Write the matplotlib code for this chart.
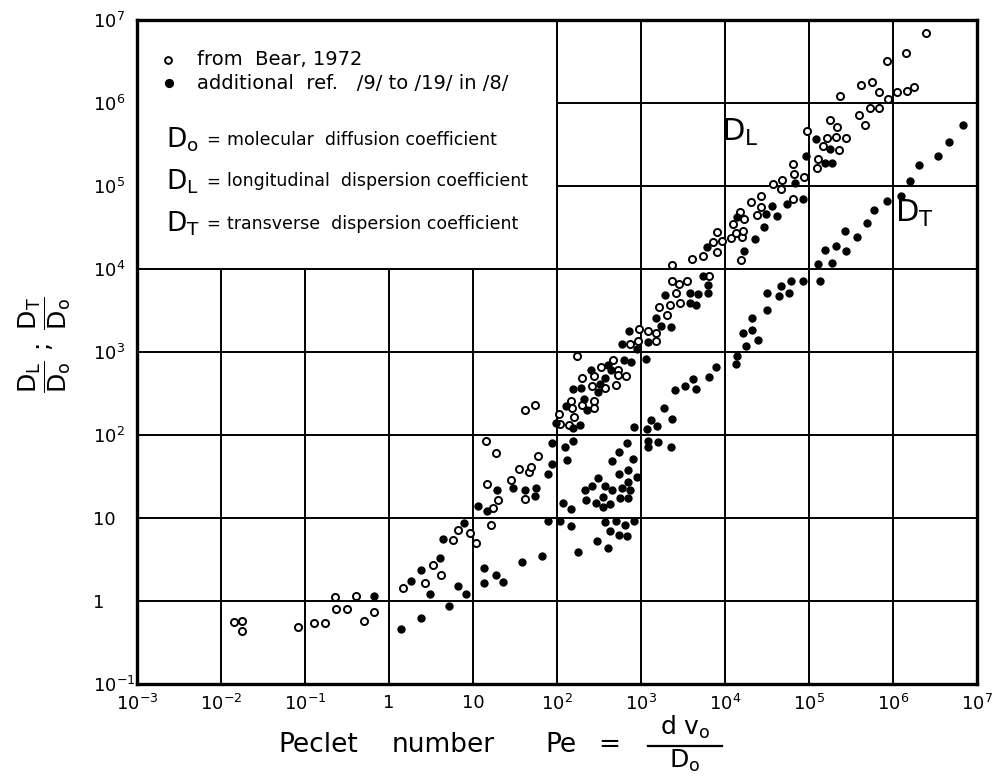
import numpy as np
import matplotlib.pyplot as plt
from matplotlib.patches import Rectangle

# open circles -- from Bear, 1972
bear_pe = [0.0141, 0.018, 0.018, 0.0815, 0.127, 0.174, 0.23, 0.236, 0.316, 0.40, 0.50, 0.665,
           1.45, 2.67, 3.36, 4.2, 5.77, 6.6, 9.1, 10.9, 16.3, 14.6, 19.8, 17.5, 28.2, 35, 46.4, 49.5,
           41.7, 60, 14.1, 19, 41.7, 55,
           175, 107, 109, 138, 148, 152, 158, 200, 200, 273, 262, 273, 275, 335, 373, 462, 535, 535,
           500, 670,
           740, 950, 930, 1200, 1510, 1510, 2050, 1630, 2190, 2940, 2630, 2350, 2800, 3550, 6450,
           2350, 4070, 5500, 7200, 8100,
           8e3, 9.3e3, 1.17e4, 1.23e4, 1.36e4, 1.5e4, 1.55e4, 1.6e4, 1.65e4, 1.68e4, 2.05e4, 2.4e4,
           2.65e4, 2.7e4, 3.7e4, 4.7e4, 4.8e4, 6.5e4, 6.5e4, 6.6e4, 8.7e4, 9.4e4,
           1.23e5, 1.28e5, 1.45e5, 1.62e5, 1.78e5, 2.1e5, 2.15e5, 2.25e5, 2.75e5, 3.9e5, 4.7e5,
           5.3e5, 6.8e5, 2.37e5, 4.2e5, 5.55e5, 6.8e5, 8.8e5, 1.12e6, 1.47e6, 1.8e6, 8.5e5, 1.42e6,
           2.44e6]
bear_d = [0.56, 0.57, 0.44, 0.48, 0.55, 0.55, 1.11, 0.80, 0.80, 1.16, 0.57, 0.73,
          1.45, 1.66, 2.71, 2.07, 5.42, 7.08, 6.55, 5.06, 8.2, 25.8, 16.4, 13.2, 29, 38.5, 36, 41.7,
          17, 56, 85, 61, 199, 227,
          904, 178, 134, 132, 260, 210, 166, 227, 480, 510, 385, 256, 214, 660, 367, 805, 600, 525,
          400, 518,
          1250, 1890, 1370, 1770, 1680, 1370, 2790, 3470, 3730, 3900, 5100, 7100, 6650, 7100, 8300,
          11100, 13300, 14500, 21000, 16100,
          2.8e4, 2.15e4, 2.35e4, 3.5e4, 2.7e4, 4.8e4, 1.27e4, 2.45e4, 2.9e4, 4e4, 6.5e4, 4.5e4,
          7.5e4, 5.6e4, 1.05e5, 9.2e4, 1.18e5, 6.9e4, 1.84e5, 1.38e5, 1.28e5, 4.6e5,
          1.63e5, 2.1e5, 3e5, 3.8e5, 6.3e5, 3.9e5, 5.1e5, 2.75e5, 3.8e5, 7.2e5, 5.4e5,
          8.6e5, 8.6e5, 1.22e6, 1.63e6, 1.8e6, 1.37e6, 1.11e6, 1.34e6, 1.39e6, 1.57e6, 3.2e6, 4e6,
          6.9e6]

# filled circles -- additional ref. /9/ to /19/ in /8/
add_pe = [0.665, 1.40, 2.4, 1.81, 2.4, 3.06, 4.1, 5.2, 6.6, 8.3, 13.7, 13.7, 18.7, 23, 38.5, 4.4, 7.9,
          66, 179, 148, 110, 79, 11.6, 14.6, 19.5, 30, 41.7, 57, 55, 78.5, 87, 117, 145, 131,
          96, 129, 155, 155, 190, 195, 210, 225, 257, 308, 327, 368, 410, 440, 630, 767, 590, 725,
          890, 1150, 1200, 1510, 1740, 2290, 1950, 3800, 3800, 4570, 4800, 6300, 6300, 5400, 6100,
          830, 1170, 1320, 1550, 1860, 2340, 2570, 3310, 4170, 4470, 1200, 1200, 1580, 2290,
          87, 126, 155, 446, 540, 690, 800, 890, 700, 550, 700, 590, 740, 700, 560, 446, 370, 310,
          262, 213, 220, 290, 350, 355, 430,
          370, 500, 650, 830, 430, 550, 690, 302, 410,
          6450, 7800, 13500, 14000, 17800, 16600, 21000, 21000, 24500, 31800, 31800, 44500, 46800,
          58400, 61000, 84000, 136000,
          1.28e5, 1.9e5, 1.55e5, 2.1e5, 2.75e5, 2.7e5, 3.7e5, 4.9e5, 5.9e5, 8.5e5, 1.24e6, 1.6e6,
          2.03e6, 3.4e6, 4.6e6, 6.8e6,
          1.4e4, 1.7e4, 2.3e4, 2.9e4, 3.1e4, 4.2e4, 3.6e4, 5.4e4, 8.6e4, 6.8e4, 9.3e4, 1.55e5,
          1.9e5, 1.8e5, 1.2e5]
add_d = [1.15, 0.455, 0.63, 1.76, 2.39, 1.22, 3.28, 0.86, 1.5, 1.22, 2.5, 1.64, 2.07, 1.71, 2.92, 5.57, 8.6,
         3.5, 3.9, 7.9, 9.2, 9.2, 14, 12.1, 21.5, 22.7, 22, 23, 18.6, 33.5, 45, 15.1, 13, 50,
         140, 224, 122, 360, 133, 367, 268, 200, 615, 327, 410, 487, 690, 600, 805, 755, 1250, 1800,
         1090, 835, 1310, 2550, 2080, 2020, 4800, 5200, 3900, 3720, 5000, 5150, 6500, 8300, 18300,
         126, 119, 153, 128, 210, 155, 346, 390, 468, 355, 85, 72, 83, 72,
         80, 71, 85, 49, 63, 79, 51, 31, 38, 33.5, 27.5, 23, 21.7, 17.5, 17.3, 22, 24.4, 30,
         24.4, 22, 16.7, 15.2, 17.8, 13.7, 14.9,
         9.0, 9.25, 8.2, 9.1, 6.9, 6.3, 6.15, 5.3, 4.4,
         500, 660, 722, 883, 1170, 1700, 1840, 2550, 1410, 3250, 5100, 4720, 6300,
         5100, 7200, 7200, 7200,
         1.16e4, 1.17e4, 1.7e4, 1.9e4, 1.66e4, 2.9e4, 2.4e4, 3.6e4, 5.1e4, 6.6e4, 7.6e4, 1.14e5,
         1.8e5, 2.3e5, 3.4e5, 5.4e5,
         4.2e4, 1.66e4, 2.3e4, 3.2e4, 4.6e4, 4.3e4, 5.8e4, 6.1e4, 6.9e4, 1.1e5, 2.3e5, 1.9e5,
         1.9e5, 2.8e5, 3.7e5]

xticks = [1e-3, 1e-2, 1e-1, 1, 10, 1e2, 1e3, 1e4, 1e5, 1e6, 1e7]
xlabels = ['$10^{-3}$', '$10^{-2}$', '$10^{-1}$', '1', '10', '$10^{2}$', '$10^{3}$',
           '$10^{4}$', '$10^{5}$', '$10^{6}$', '$10^{7}$']
yticks = [1e-1, 1, 10, 1e2, 1e3, 1e4, 1e5, 1e6, 1e7]
ylabels = ['$10^{-1}$', '1', '10', '$10^{2}$', '$10^{3}$', '$10^{4}$', '$10^{5}$',
           '$10^{6}$', '$10^{7}$']

fig = plt.figure(figsize=(9.94, 7.83), dpi=100)
ax = fig.add_axes([137/994, 1-684/783, 840/994, 664/783])
ax.set_xscale('log')
ax.set_yscale('log')
ax.set_xlim(1e-3, 1e7)
ax.set_ylim(1e-1, 1e7)
ax.set_xticks(xticks)
ax.set_xticklabels(xlabels)
ax.set_yticks(yticks)
ax.set_yticklabels(ylabels)
ax.minorticks_off()
ax.tick_params(axis='both', length=0, labelsize=13)
ax.tick_params(axis='x', pad=7)
ax.tick_params(axis='y', pad=32)
for lab in ax.get_yticklabels():
    lab.set_horizontalalignment('left')
ax.set_axisbelow(True)
ax.grid(True, which='major', color='black', lw=1.4)
for s in ax.spines.values():
    s.set_linewidth(2.4)

# legend box, no grid inside
ax.add_patch(Rectangle((1e-3, 1e4), 1e2 - 1e-3, 1e7 - 1e4, facecolor='white',
                       edgecolor='black', lw=1.4, zorder=1))

ax.scatter(bear_pe, bear_d, s=26, facecolors='white', edgecolors='black', lw=1.4, zorder=3)
ax.scatter(add_pe, add_d, s=36, color='black', lw=0, zorder=3)

# legend content
ax.scatter([0.037], [0.94], s=24, facecolors='white', edgecolors='black', lw=1.4,
           transform=ax.transAxes, zorder=4)
ax.scatter([0.038], [0.905], s=44, color='black', lw=0, transform=ax.transAxes, zorder=4)
ax.text(0.072, 0.94, 'from  Bear, 1972', transform=ax.transAxes, fontsize=14,
        va='center', zorder=4)
ax.text(0.072, 0.905, 'additional  ref.   /9/ to /19/ in /8/', transform=ax.transAxes,
        fontsize=14, va='center', zorder=4)
rows = [('$\\mathrm{D_o}$', 'molecular  diffusion coefficient', 0.82),
        ('$\\mathrm{D_L}$', 'longitudinal  dispersion coefficient', 0.757),
        ('$\\mathrm{D_T}$', 'transverse  dispersion coefficient', 0.693)]
for sym, desc, yy in rows:
    ax.text(0.034, yy, sym, transform=ax.transAxes, fontsize=19, va='center', zorder=4)
    ax.text(0.083, yy, '=', transform=ax.transAxes, fontsize=12, va='center', zorder=4)
    ax.text(0.107, yy, desc, transform=ax.transAxes, fontsize=12.5, va='center', zorder=4)

ax.text(0.718, 0.83, '$\\mathrm{D_L}$', transform=ax.transAxes, fontsize=22,
        ha='center', va='center')
ax.text(0.926, 0.709, '$\\mathrm{D_T}$', transform=ax.transAxes, fontsize=22,
        ha='center', va='center')

# axis labels
fig.text(0.045, 1-345/783, r'$\dfrac{\mathrm{D_L}}{\mathrm{D_o}}\ ;\ \dfrac{\mathrm{D_T}}{\mathrm{D_o}}$',
         rotation=90, ha='center', va='center', fontsize=18)
for word, xp in [('Peclet', 278), ('number', 392), ('Pe', 545), ('=', 598)]:
    fig.text(xp/994, 1-745/783, word, fontsize=19, ha='left', va='center')
fig.text(685/994, 1-727/783, r'd $\mathrm{v_o}$', fontsize=18, ha='center', va='center')
fig.add_artist(plt.Line2D([648/994, 722/994], [1-746/783, 1-746/783], color='black', lw=1.6))
fig.text(685/994, 1-761/783, r'$\mathrm{D_o}$', fontsize=18, ha='center', va='center')

fig.savefig('out.png', dpi=100)
